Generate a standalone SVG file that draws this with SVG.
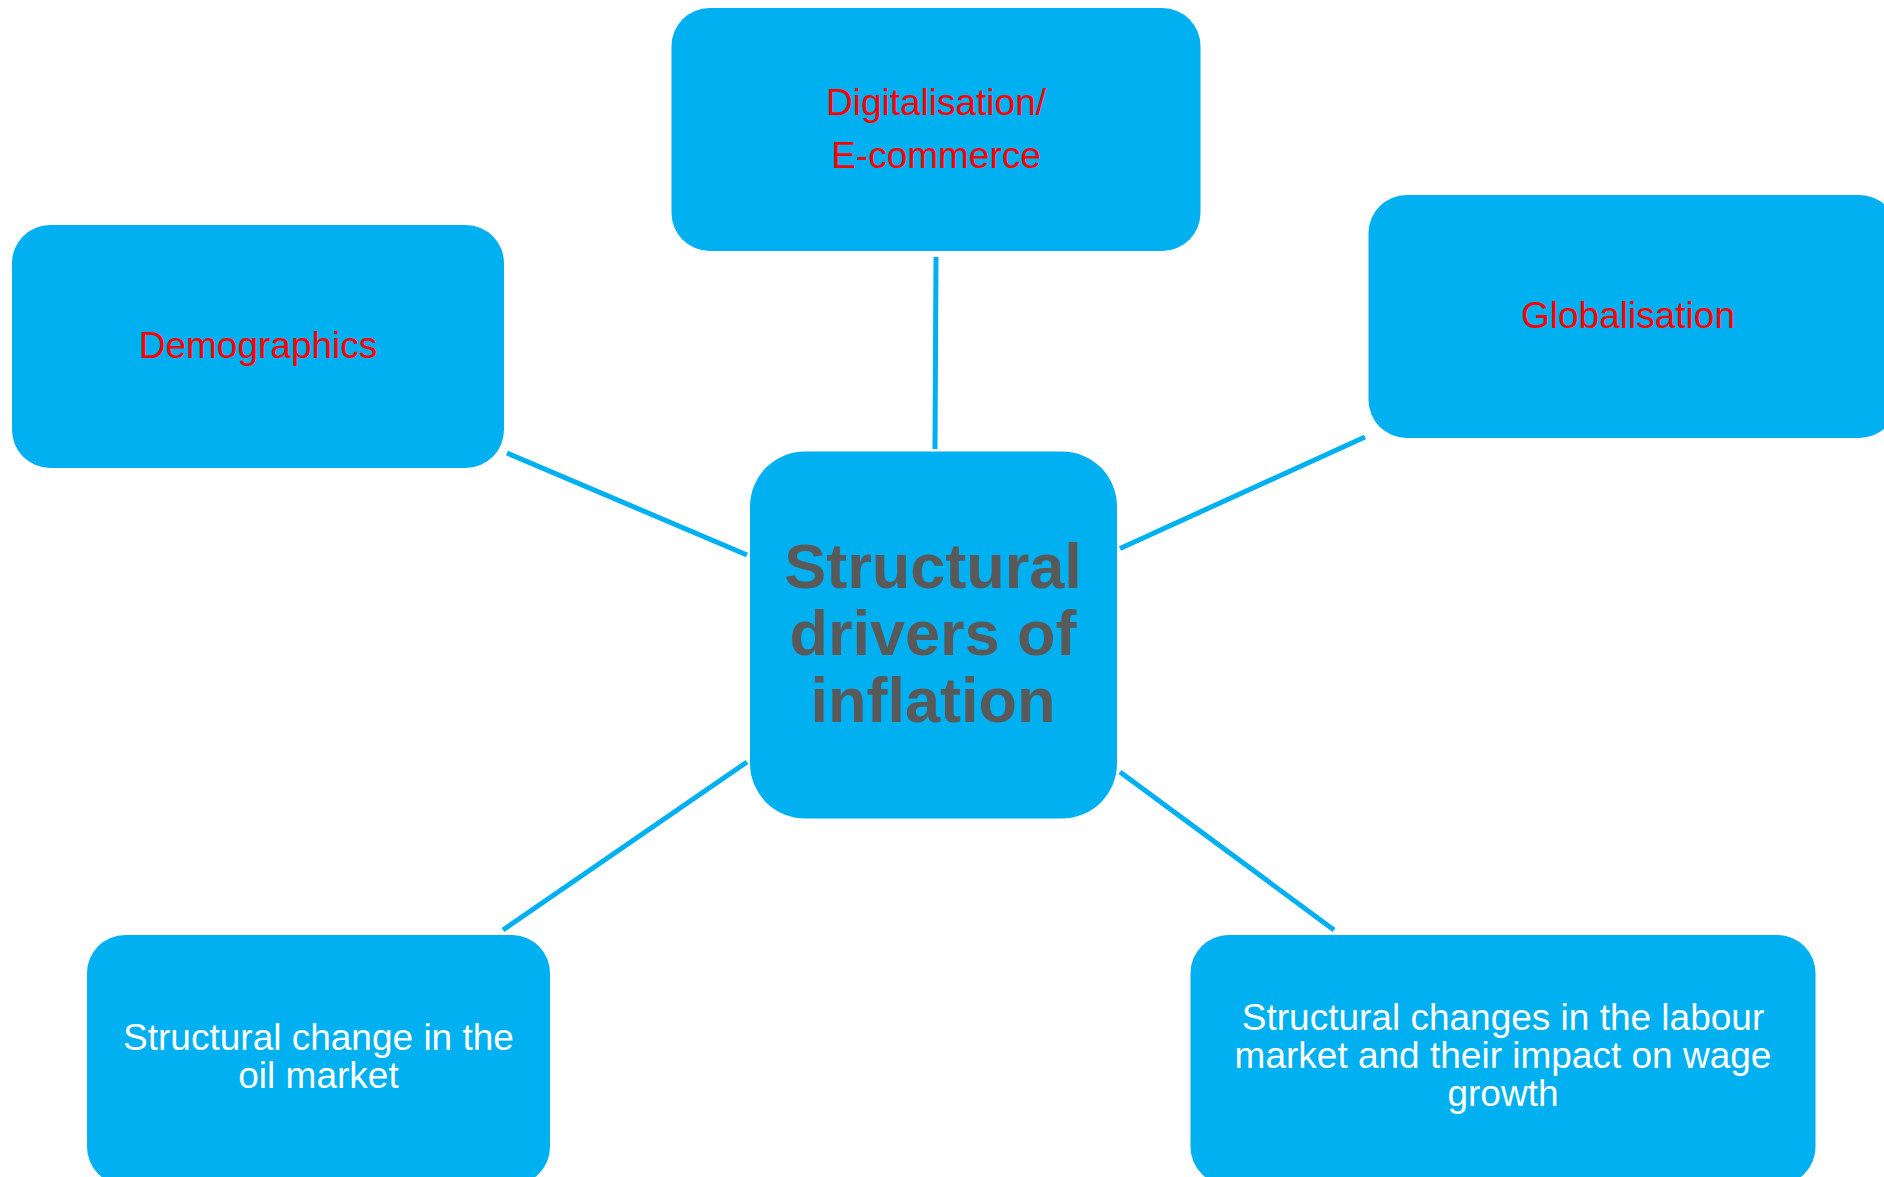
<svg xmlns="http://www.w3.org/2000/svg" width="1884" height="1177" viewBox="0 0 1884 1177">
<style>
.box{fill:#00B0F0;}
.conn{stroke:#00B0F0;stroke-width:5;fill:none;}
.t{font-family:"Liberation Sans",Arial,sans-serif;font-size:37px;text-anchor:middle;}
.red{fill:#FF0000;}
.white{fill:#FFFFFF;}
.main{font-family:"Liberation Sans",Arial,sans-serif;font-size:63px;font-weight:bold;fill:#595959;text-anchor:middle;}
</style>
<rect width="1884" height="1177" fill="#FFFFFF"/>
<g id="connectors">
<line class="conn" x1="936" y1="257" x2="935" y2="449"/>
<line class="conn" x1="507" y1="453" x2="747" y2="555"/>
<line class="conn" x1="1120" y1="548.5" x2="1365" y2="437"/>
<line class="conn" x1="503" y1="930" x2="747" y2="762"/>
<line class="conn" x1="1120" y1="772" x2="1334" y2="930"/>
</g>
<g id="node-digitalisation">
<rect class="box" x="671.5" y="8" width="529" height="243" rx="38" ry="38"/>
<text class="t red" x="936" y="115">Digitalisation/</text>
<text class="t red" x="936" y="168">E-commerce</text>
</g>
<g id="node-demographics">
<rect class="box" x="12" y="225" width="492" height="243" rx="38" ry="38"/>
<text class="t red" x="258" y="358">Demographics</text>
</g>
<g id="node-globalisation">
<rect class="box" x="1368.5" y="195" width="529" height="243" rx="38" ry="38"/>
<text class="t red" x="1628" y="328">Globalisation</text>
</g>
<g id="node-center">
<rect class="box" x="750" y="451.5" width="367" height="367" rx="55" ry="55"/>
<text class="main" x="933" y="588">Structural</text>
<text class="main" x="933" y="655">drivers of</text>
<text class="main" x="933" y="722">inflation</text>
</g>
<g id="node-oil">
<rect class="box" x="87" y="935" width="463" height="250" rx="38" ry="38"/>
<text class="t white" x="318.5" y="1050">Structural change in the</text>
<text class="t white" x="318.5" y="1088">oil market</text>
</g>
<g id="node-labour">
<rect class="box" x="1190.5" y="935" width="625" height="250" rx="38" ry="38"/>
<text class="t white" x="1503" y="1030">Structural changes in the labour</text>
<text class="t white" x="1503" y="1068">market and their impact on wage</text>
<text class="t white" x="1503" y="1106">growth</text>
</g>
</svg>
